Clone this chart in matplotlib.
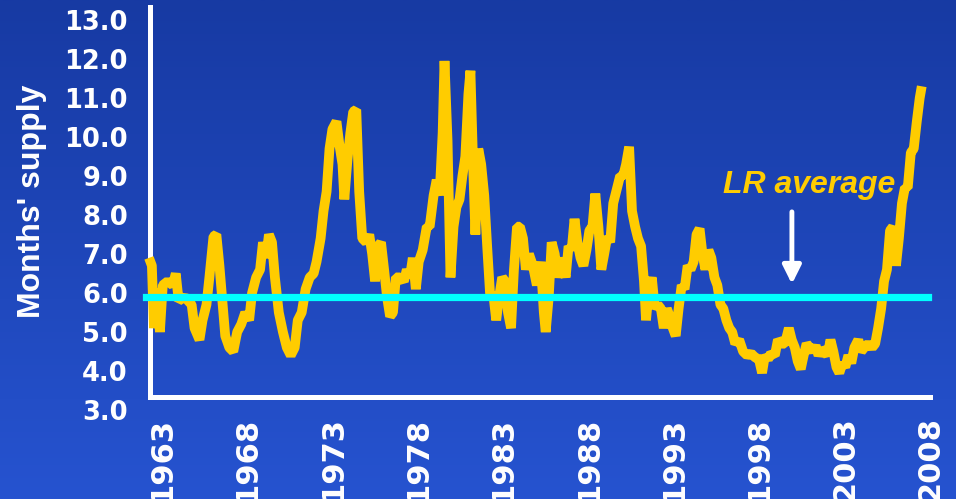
import numpy as np
import matplotlib
matplotlib.use("Agg")
import matplotlib.pyplot as plt
from matplotlib.colors import LinearSegmentedColormap

years = [
    1963.06, 1963.23, 1963.35, 1963.52, 1963.70, 1963.87, 1964.16, 1964.45, 1964.63, 1964.80,
    1965.15, 1965.56, 1965.73, 1966.02, 1966.20, 1966.43, 1966.60, 1966.84, 1967.01, 1967.19,
    1967.36, 1967.53, 1967.77, 1968.00, 1968.23, 1968.47, 1968.70, 1968.93, 1969.10, 1969.34,
    1969.57, 1969.74, 1969.92, 1970.09, 1970.27, 1970.44, 1970.67, 1970.91, 1971.14, 1971.37,
    1971.60, 1971.78, 1972.01, 1972.24, 1972.48, 1972.71, 1972.88, 1973.12, 1973.29, 1973.47,
    1973.64, 1973.81, 1974.05, 1974.22, 1974.40, 1974.51, 1974.69, 1974.86, 1975.03, 1975.21,
    1975.38, 1975.56, 1975.79, 1975.97, 1976.14, 1976.31, 1976.49, 1976.66, 1976.84, 1977.01,
    1977.19, 1977.36, 1977.53, 1977.77, 1978.00, 1978.17, 1978.35, 1978.52, 1978.70, 1978.87,
    1979.10, 1979.34, 1979.51, 1979.74, 1979.92, 1980.09, 1980.27, 1980.38, 1980.56, 1980.73,
    1980.91, 1981.08, 1981.26, 1981.43, 1981.60, 1981.78, 1981.90, 1982.07, 1982.19, 1982.36,
    1982.53, 1982.71, 1982.88, 1983.06, 1983.23, 1983.41, 1983.58, 1983.76, 1983.93, 1984.10,
    1984.28, 1984.45, 1984.63, 1984.80, 1984.98, 1985.15, 1985.33, 1985.56, 1985.79, 1986.02,
    1986.20, 1986.31, 1986.49, 1986.66, 1986.84, 1987.01, 1987.24, 1987.48, 1987.65, 1987.83,
    1988.00, 1988.17, 1988.35, 1988.52, 1988.70, 1988.87, 1989.05, 1989.22, 1989.40, 1989.57,
    1989.74, 1989.92, 1990.09, 1990.27, 1990.44, 1990.67, 1990.85, 1991.02, 1991.20, 1991.37,
    1991.55, 1991.72, 1991.90, 1992.07, 1992.19, 1992.36, 1992.53, 1992.71, 1992.88, 1993.06,
    1993.23, 1993.41, 1993.58, 1993.76, 1993.93, 1994.10, 1994.28, 1994.45, 1994.63, 1994.80,
    1994.98, 1995.15, 1995.33, 1995.50, 1995.67, 1995.85, 1996.02, 1996.20, 1996.37, 1996.55,
    1996.72, 1996.90, 1997.07, 1997.24, 1997.42, 1997.65, 1997.88, 1998.12, 1998.35, 1998.58,
    1998.81, 1998.99, 1999.16, 1999.34, 1999.51, 1999.74, 1999.92, 2000.15, 2000.33, 2000.56,
    2000.73, 2000.91, 2001.08, 2001.26, 2001.43, 2001.60, 2001.78, 2001.95, 2002.13, 2002.30,
    2002.48, 2002.65, 2002.83, 2003.00, 2003.17, 2003.35, 2003.52, 2003.70, 2003.87, 2004.05,
    2004.22, 2004.40, 2004.63, 2004.80, 2004.98, 2005.22, 2005.44, 2005.62, 2005.79, 2005.97,
    2006.14, 2006.31, 2006.49, 2006.66, 2006.84, 2007.01, 2007.19, 2007.36, 2007.53, 2007.71,
    2007.88, 2008.06, 2008.23, 2008.35,
]
supply = [
    6.9, 6.7, 5.1, 6.1, 5.0, 6.2, 6.3, 6.2, 6.5, 5.8,
    5.9, 5.7, 5.1, 4.8, 5.3, 5.7, 6.4, 7.45, 7.5, 6.7,
    5.8, 4.9, 4.6, 4.5, 5.0, 5.2, 5.5, 5.3, 6.0, 6.4,
    6.6, 7.3, 6.9, 7.5, 7.3, 6.4, 5.5, 5.0, 4.6, 4.4,
    4.6, 5.3, 5.5, 6.1, 6.4, 6.5, 6.8, 7.4, 8.1, 8.6,
    9.7, 10.2, 10.4, 9.8, 9.3, 8.4, 9.4, 10.1, 10.65, 10.7,
    8.6, 7.4, 7.3, 7.5, 7.0, 6.3, 7.2, 7.3, 6.6, 5.9,
    5.4, 5.5, 6.4, 6.4, 6.3, 6.6, 6.4, 6.9, 6.1, 6.8,
    7.1, 7.7, 7.7, 8.5, 8.9, 8.5, 10.1, 11.95, 9.9, 6.4,
    7.7, 8.2, 8.4, 9.0, 9.5, 11.1, 11.7, 9.1, 7.5, 9.7,
    9.3, 8.5, 7.2, 5.9, 6.0, 5.3, 5.9, 6.4, 6.3, 5.5,
    5.1, 6.6, 7.7, 7.7, 7.4, 6.6, 7.0, 6.7, 6.2, 6.8,
    5.5, 5.0, 5.9, 7.3, 7.0, 6.4, 6.9, 6.4, 7.2, 7.1,
    7.9, 7.3, 6.9, 6.7, 7.1, 7.6, 7.7, 8.55, 7.7, 6.6,
    7.0, 7.45, 7.3, 8.3, 8.6, 9.0, 9.0, 9.3, 9.75, 8.1,
    7.7, 7.4, 7.2, 6.3, 5.3, 6.1, 6.4, 5.6, 5.7, 5.6,
    5.1, 5.6, 5.4, 5.1, 4.9, 5.6, 6.2, 6.1, 6.7, 6.6,
    6.8, 7.5, 7.65, 7.0, 6.6, 7.1, 6.9, 6.4, 6.2, 5.7,
    5.6, 5.3, 5.1, 5.0, 4.7, 4.8, 4.5, 4.4, 4.45, 4.35,
    4.3, 3.95, 4.4, 4.3, 4.45, 4.4, 4.8, 4.7, 4.7, 5.1,
    4.8, 4.6, 4.25, 4.05, 4.4, 4.7, 4.6, 4.5, 4.65, 4.4,
    4.55, 4.5, 4.4, 4.8, 4.5, 4.1, 3.95, 4.2, 4.1, 4.4,
    4.2, 4.6, 4.8, 4.5, 4.6, 4.7, 4.6, 4.7, 5.1, 5.6,
    6.3, 6.6, 7.6, 7.7, 6.7, 7.4, 8.3, 8.7, 8.7, 9.6,
    9.7, 10.4, 11.0, 11.3,
]
lr_average = 5.9
tick_years = list(range(1963, 2009, 5))
y_ticks = np.arange(3, 14)

yellow = "#FFCC00"

fig = plt.figure(figsize=(9.56, 4.99), dpi=100)

# blue gradient backdrop
bg = fig.add_axes([0, 0, 1, 1])
bg.axis("off")
grad = np.linspace(0, 1, 256)[:, None]
cmap = LinearSegmentedColormap.from_list("slide", ["#173aa3", "#2653d0"])
bg.imshow(grad, aspect="auto", cmap=cmap, extent=[0, 1, 0, 1])

ax = fig.add_axes([150 / 956, 89 / 499, 780 / 956, 403 / 499])
ax.patch.set_alpha(0)
ax.set_xlim(1963.12, 1963.12 + 780 / 17.2)
ax.set_ylim(3.0, 3.0 + 403 / 39)

ax.plot(years, supply, color=yellow, lw=7, solid_joinstyle="bevel",
        solid_capstyle="butt", clip_on=False, zorder=3)
ax.axhline(lr_average, xmin=-0.005, xmax=0.997, color="#00FFFF", lw=5.2,
           zorder=4, clip_on=False)

for side in ["top", "right"]:
    ax.spines[side].set_visible(False)
for side in ["left", "bottom"]:
    ax.spines[side].set_color("white")
    ax.spines[side].set_linewidth(3.6)
ax.spines["bottom"].set_position(("data", 3.33))
ax.spines["left"].set_bounds(3.33, 3.0 + 403 / 39)

ax.set_yticks(y_ticks)
ax.set_yticklabels([f"{v:.1f}" for v in y_ticks], fontfamily="DejaVu Sans",
                   fontweight="bold", fontsize=18.5, color="white")
ax.set_xticks([y + 10 / 12 for y in tick_years])
ax.set_xticklabels([str(y) for y in tick_years], rotation=90, va="top",
                   fontfamily="DejaVu Sans", fontweight="bold", fontsize=22,
                   color="white")
ax.tick_params(axis="y", length=0, pad=16)
ax.tick_params(axis="x", length=0, pad=14)

fig.text(32 / 956, 1 - 201 / 499, "Months' supply", rotation=90, ha="center",
         va="center", color="white", fontsize=23, fontweight="bold",
         family="Liberation Sans")

ax.text(2001.72, 8.56, "LR average", ha="center", va="baseline", color=yellow,
        fontsize=23, fontweight="bold", fontstyle="italic",
        family="Liberation Sans")
ax.annotate("", xy=(2000.74, 6.23), xytext=(2000.74, 8.08),
            arrowprops=dict(arrowstyle="-|>,head_length=1.1,head_width=0.55",
                            color="white", lw=3.5, shrinkA=0, shrinkB=0))

fig.savefig("out.png", dpi=100)
